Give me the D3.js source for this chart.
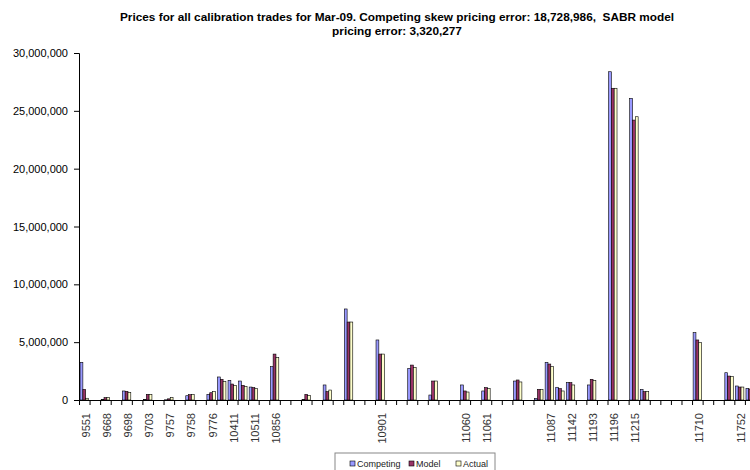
<!DOCTYPE html>
<html>
<head>
<meta charset="utf-8">
<script src="https://cdn.jsdelivr.net/npm/d3@7"></script>
<style>
  html, body { margin: 0; padding: 0; background: #fff; }
  svg { display: block; font-family: "Liberation Sans", Arial, sans-serif; }
  .title text { white-space: pre; }
</style>
</head>
<body>
<svg id="chart" width="750" height="470"></svg>
<script>
// Trade categories (blank entries are trades whose label is not printed)
const categories = [
  "9551", "", "9668", "", "9698", "", "9703", "", "9757", "",
  "9758", "", "9776", "", "10411", "", "10511", "", "10856", "",
  "", "", "", "", "", "", "", "", "10901", "",
  "", "", "", "", "", "", "11060", "", "11061", "",
  "", "", "", "", "11087", "", "11142", "", "11193", "",
  "11196", "", "11215", "", "", "", "", "", "11710", "",
  "", "", "11752", "", ""
];

const seriesNames = ["Competing", "Model", "Actual"];

const competing = [
  3260000, null, 40000, null, 780000, null, 40000, null, 20000, null,
  370000, null, 490000, 1990000, 1700000, 1640000, 1120000, null, 2880000, null,
  null, 40000, null, 1300000, null, 7870000, null, null, 5190000, null,
  null, 2740000, null, 430000, null, null, 1300000, null, 780000, null,
  null, 1640000, null, 140000, 3260000, 1100000, 1500000, null, 1300000, null,
  28380000, null, 26080000, 920000, null, null, null, null, 5820000, null,
  null, 2360000, 1210000, 1010000, null
];

const model = [
  920000, null, 200000, null, 750000, null, 490000, null, 100000, null,
  460000, null, 630000, 1790000, 1380000, 1270000, 1070000, null, 3970000, null,
  null, 490000, null, 720000, null, 6740000, null, null, 3970000, null,
  null, 3020000, null, 1640000, null, null, 780000, null, 1070000, null,
  null, 1730000, null, 920000, 3110000, 980000, 1500000, null, 1790000, null,
  26950000, null, 24200000, 720000, null, null, null, null, 5190000, null,
  null, 2070000, 1120000, 950000, null
];

const actual = [
  150000, null, 220000, null, 660000, null, 490000, null, 230000, null,
  460000, null, 720000, 1610000, 1270000, 1180000, 980000, null, 3660000, null,
  null, 400000, null, 860000, null, 6740000, null, null, 3970000, null,
  null, 2820000, null, 1640000, null, null, 690000, null, 980000, null,
  null, 1560000, null, 920000, 2880000, 780000, 1300000, null, 1700000, null,
  26950000, null, 24490000, 750000, null, null, null, null, 4960000, null,
  null, 2020000, 1120000, 900000, null
];

const yTicks = [0, 5000000, 10000000, 15000000, 20000000, 25000000, 30000000];

const colors = { Competing: "#9999FF", Model: "#993366", Actual: "#FFFFCC" };

const titleLines = [
  "Prices for all calibration trades for Mar-09. Competing skew pricing error: 18,728,986,  SABR model",
  "pricing error: 3,320,277"
];

const svg = d3.select("#chart");

// Plot geometry
const plotLeft = 79, plotTop = 53, plotBottom = 400, step = 10.57;
const plotRight = plotLeft + step * categories.length;

const x = d3.scaleBand()
  .domain(d3.range(categories.length))
  .range([plotLeft, plotRight])
  .paddingInner(0.2)
  .paddingOuter(0.1);

const xInner = d3.scaleBand()
  .domain(seriesNames)
  .range([0, x.bandwidth()]);

const y = d3.scaleLinear().domain([0, 30000000]).range([plotBottom, plotTop]);

// Title
svg.append("g")
  .attr("class", "title")
  .selectAll("text")
  .data(titleLines)
  .join("text")
  .attr("x", 397)
  .attr("y", (d, i) => 21 + i * 14)
  .attr("text-anchor", "middle")
  .style("font-size", "11.8px")
  .style("font-weight", "bold")
  .text(d => d);

// Bars
const rows = categories.map((c, i) => ({
  i,
  values: [
    { key: "Competing", v: competing[i] },
    { key: "Model", v: model[i] },
    { key: "Actual", v: actual[i] }
  ].filter(d => d.v != null)
}));

svg.append("g")
  .selectAll("g")
  .data(rows)
  .join("g")
  .attr("transform", d => `translate(${x(d.i)},0)`)
  .selectAll("rect")
  .data(d => d.values)
  .join("rect")
  .attr("x", d => xInner(d.key))
  .attr("width", xInner.bandwidth())
  .attr("y", d => y(d.v))
  .attr("height", d => y(0) - y(d.v))
  .attr("fill", d => colors[d.key])
  .attr("stroke", "#000")
  .attr("stroke-width", 0.6);

// Y axis
const yAxis = svg.append("g")
  .attr("transform", `translate(${plotLeft},0)`)
  .call(d3.axisLeft(y).tickValues(yTicks).tickFormat(d3.format(",")).tickSize(5).tickPadding(6));
yAxis.selectAll("text").style("font-size", "11px").attr("fill", "#000");
yAxis.selectAll("line, path").attr("stroke", "#000");

// X axis: tick marks at category boundaries
const boundary = d3.scaleLinear().domain([0, categories.length]).range([plotLeft, plotRight]);
const xTickAxis = svg.append("g")
  .attr("transform", `translate(0,${plotBottom})`)
  .call(d3.axisBottom(boundary).tickValues(d3.range(categories.length + 1)).tickFormat("").tickSize(5).tickSizeOuter(0));
xTickAxis.selectAll("line, path").attr("stroke", "#000");

// X axis: category labels, every second category
const labelIdx = d3.range(0, categories.length, 2).filter(i => categories[i] !== "");
const xLabelAxis = svg.append("g")
  .attr("transform", `translate(0,${plotBottom})`)
  .call(d3.axisBottom(x).tickValues(labelIdx).tickFormat(i => categories[i]).tickSize(0));
xLabelAxis.select(".domain").remove();
xLabelAxis.selectAll("text")
  .attr("transform", "rotate(-90)")
  .attr("x", -13)
  .attr("y", 0)
  .attr("dy", "0.5em")
  .style("text-anchor", "end")
  .style("font-size", "11px")
  .attr("fill", "#333");

// Legend
const legend = svg.append("g").attr("transform", "translate(335,453)");
legend.append("rect")
  .attr("width", 160).attr("height", 22)
  .attr("fill", "#fff").attr("stroke", "#888").attr("stroke-width", 1);
const legendX = [15, 74, 121];
const items = legend.selectAll("g.item")
  .data(seriesNames)
  .join("g")
  .attr("class", "item")
  .attr("transform", (d, i) => `translate(${legendX[i]},8)`);
items.append("rect")
  .attr("width", 5).attr("height", 5)
  .attr("fill", d => colors[d]).attr("stroke", "#000").attr("stroke-width", 0.6);
items.append("text")
  .attr("x", 7).attr("y", 5.5)
  .style("font-size", "9px")
  .attr("fill", "#222")
  .text(d => d);
</script>
</body>
</html>
